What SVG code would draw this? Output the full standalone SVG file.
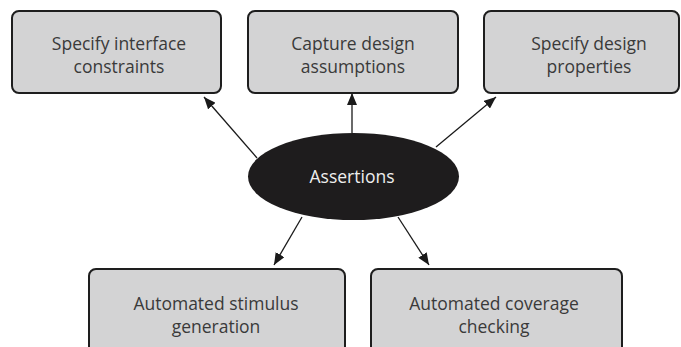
<svg xmlns="http://www.w3.org/2000/svg" width="681" height="347" viewBox="0 0 681 347">
  <defs>
    <marker id="arrow" viewBox="0 0 12 10" refX="12" refY="5" markerWidth="12" markerHeight="10" markerUnits="userSpaceOnUse" orient="auto">
      <path d="M0,0 L12,5 L0,10 z" fill="#1a1a1a"/>
    </marker>
  </defs>
  <style>
    .box { fill: #d3d3d4; stroke: #1e1e1e; stroke-width: 2; }
    .label { font-family: "Open Sans", "Noto Sans", sans-serif; font-size: 17.5px; fill: #3a3a3a; text-anchor: middle; }
    .hub { fill: #1e1c1d; }
    .hub-label { font-family: "Open Sans", "Noto Sans", sans-serif; font-size: 17.5px; fill: #eeeeee; text-anchor: middle; }
    .edge { stroke: #1a1a1a; stroke-width: 1.3; fill: none; marker-end: url(#arrow); }
  </style>

  <g id="connectors">
    <line class="edge" x1="257" y1="158" x2="204" y2="97"/>
    <line class="edge" x1="352" y1="133" x2="352" y2="93"/>
    <line class="edge" x1="436" y1="147" x2="496" y2="97"/>
    <line class="edge" x1="302" y1="217" x2="274" y2="265"/>
    <line class="edge" x1="398" y1="217" x2="429" y2="265"/>
  </g>

  <g id="interface-constraints">
    <rect class="box" x="12" y="11" width="209" height="82" rx="7"/>
    <text class="label" x="119" y="50">Specify interface</text>
    <text class="label" x="119" y="73">constraints</text>
  </g>

  <g id="design-assumptions">
    <rect class="box" x="248" y="11" width="210" height="82" rx="7"/>
    <text class="label" x="353" y="50">Capture design</text>
    <text class="label" x="353" y="73">assumptions</text>
  </g>

  <g id="design-properties">
    <rect class="box" x="484" y="11" width="195" height="82" rx="7"/>
    <text class="label" x="589" y="50">Specify design</text>
    <text class="label" x="589" y="73">properties</text>
  </g>

  <g id="assertions">
    <ellipse class="hub" cx="353.5" cy="176.5" rx="105.5" ry="43.5"/>
    <text class="hub-label" x="352" y="183">Assertions</text>
  </g>

  <g id="stimulus-generation">
    <rect class="box" x="89" y="269" width="256" height="100" rx="7"/>
    <text class="label" x="216" y="310">Automated stimulus</text>
    <text class="label" x="216" y="333">generation</text>
  </g>

  <g id="coverage-checking">
    <rect class="box" x="371" y="269" width="251" height="100" rx="7"/>
    <text class="label" x="494" y="310">Automated coverage</text>
    <text class="label" x="494" y="333">checking</text>
  </g>
</svg>
